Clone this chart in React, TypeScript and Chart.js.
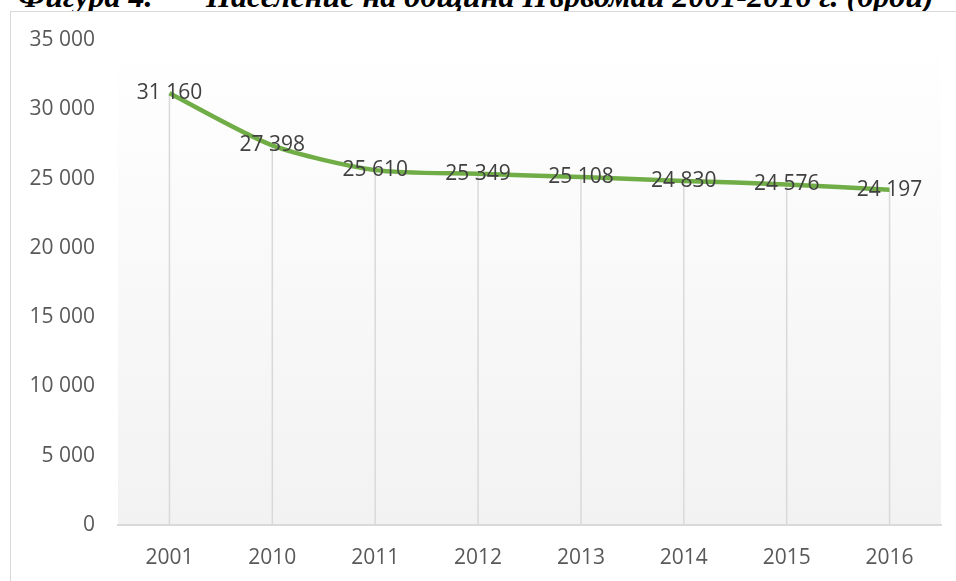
import React, { useEffect, useRef } from "react";
import { Chart, registerables } from "chart.js";

Chart.register(...registerables);

const categories = ["2001", "2010", "2011", "2012", "2013", "2014", "2015", "2016"];
const population = [31160, 27398, 25610, 25349, 25108, 24830, 24576, 24197];
const titleLabel = "Фигура 4.";
const titleText = "Население на община Първомай 2001-2016 г. (брой)";
const yMin = 0;
const yMax = 35000;
const yStep = 5000;

const fmt = (v: number) => String(Math.round(v)).replace(/\B(?=(\d{3})+(?!\d))/g, " ");

const FONT = "'Open Sans', sans-serif";

export default function App() {
  const ref = useRef<HTMLCanvasElement | null>(null);

  useEffect(() => {
    document.body.style.margin = "0";
    const canvas = ref.current;
    if (!canvas) return;

    const bgPlugin = {
      id: "plotBg",
      beforeDraw(chart: any) {
        const { ctx, chartArea } = chart;
        const g = ctx.createLinearGradient(0, chartArea.top, 0, chartArea.bottom);
        g.addColorStop(0, "#ffffff");
        g.addColorStop(1, "#f2f2f2");
        ctx.save();
        ctx.fillStyle = g;
        ctx.fillRect(chartArea.left, chartArea.top, chartArea.right - chartArea.left, chartArea.bottom - chartArea.top);
        ctx.restore();
      },
    };

    const dropPlugin = {
      id: "dropLines",
      beforeDatasetsDraw(chart: any) {
        const { ctx, chartArea } = chart;
        const meta = chart.getDatasetMeta(0);
        ctx.save();
        ctx.strokeStyle = "#d9d9d9";
        ctx.lineWidth = 1.5;
        meta.data.forEach((pt: any) => {
          ctx.beginPath();
          ctx.moveTo(pt.x, pt.y);
          ctx.lineTo(pt.x, chartArea.bottom);
          ctx.stroke();
        });
        ctx.restore();
      },
      afterDatasetsDraw(chart: any) {
        const { ctx } = chart;
        const meta = chart.getDatasetMeta(0);
        ctx.save();
        ctx.font = `21px ${FONT}`;
        ctx.fillStyle = "#404040";
        ctx.textAlign = "center";
        ctx.textBaseline = "middle";
        meta.data.forEach((pt: any, i: number) => {
          ctx.fillText(fmt(population[i]), pt.x, pt.y);
        });
        ctx.restore();
      },
    };

    const chart = new Chart(canvas, {
      type: "line",
      data: {
        labels: categories,
        datasets: [
          {
            data: population,
            borderColor: "#70AD47",
            borderWidth: 4.5,
            pointRadius: 0,
            tension: 0.25,
            fill: false,
          },
        ],
      },
      options: {
        animation: false,
        responsive: false,
        maintainAspectRatio: false,
        layout: { padding: { left: 0, right: 15, top: 40, bottom: 0 } },
        plugins: {
          legend: { display: false },
          title: { display: false },
          tooltip: { enabled: false },
        },
        scales: {
          x: {
            offset: true,
            grid: { display: false, drawTicks: false },
            border: { display: true, color: "#d9d9d9", width: 2 },
            ticks: { color: "#595959", font: { family: FONT, size: 21 }, padding: 20, maxRotation: 0 },
            afterFit(scale: any) {
              scale.height = 56;
            },
          },
          y: {
            min: yMin,
            max: yMax,
            grid: { display: false, drawTicks: false },
            border: { display: false },
            ticks: {
              stepSize: yStep,
              color: "#595959",
              font: { family: FONT, size: 21 },
              padding: 23,
              callback: (v: any) => fmt(Number(v)),
            },
            afterFit(scale: any) {
              scale.width = 118;
            },
          },
        },
      },
      plugins: [bgPlugin, dropPlugin],
    });

    return () => chart.destroy();
  }, []);

  const titleStyle: React.CSSProperties = {
    position: "absolute",
    top: -19,
    fontFamily: "'Liberation Serif', 'Times New Roman', serif",
    fontWeight: "bold",
    fontStyle: "italic",
    fontSize: 32,
    lineHeight: "30px",
    whiteSpace: "pre",
    color: "#000",
  };

  return (
    <div style={{ position: "relative", width: 956, height: 581, overflow: "hidden", background: "#fff" }}>
      <div style={{ ...titleStyle, left: 18 }}>{titleLabel}</div>
      <div style={{ ...titleStyle, left: 206 }}>{titleText}</div>
      <div
        style={{
          position: "absolute",
          left: 10,
          top: 11,
          width: 980,
          height: 600,
          border: "1.5px solid #d9d9d9",
          background: "#fff",
        }}
      />
      <canvas ref={ref} width={956} height={581} style={{ position: "absolute", left: 0, top: 0 }} />
    </div>
  );
}
